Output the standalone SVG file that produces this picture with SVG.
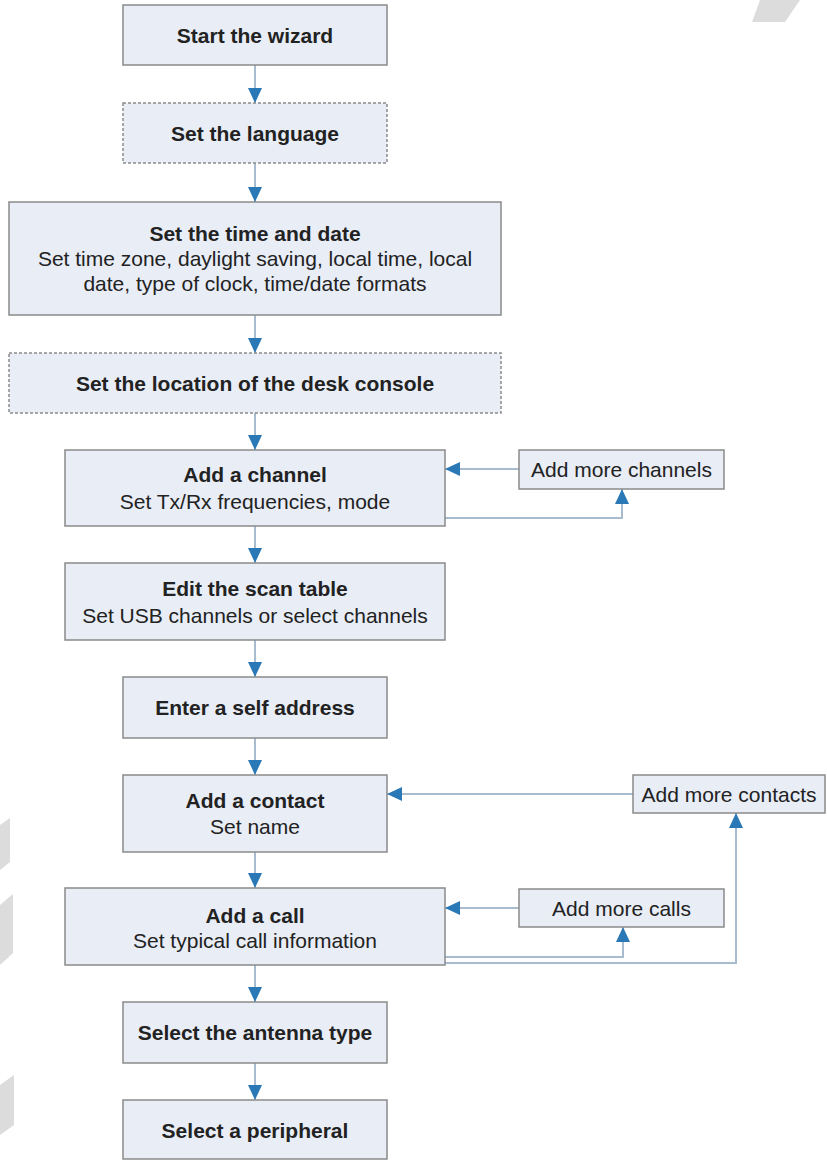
<svg xmlns="http://www.w3.org/2000/svg" width="827" height="1161" viewBox="0 0 827 1161">
<style>
  .box{fill:#e8edf6;stroke:#8a8a8a;stroke-width:1.5}
  .dash{fill:#e8edf6;stroke:#8a8a8a;stroke-width:1.5;stroke-dasharray:3 2}
  .t{font-family:"Liberation Sans",Arial,Helvetica,sans-serif;font-size:21px;fill:#222;text-anchor:middle;dominant-baseline:central}
  .b{font-weight:bold}
  .c{fill:none;stroke:#a9bccf;stroke-width:2}
  .bg{fill:#dcdcdc}
</style>
<defs>
  <marker id="ah" markerUnits="userSpaceOnUse" markerWidth="15" markerHeight="14" refX="15" refY="7" orient="auto">
    <path d="M0,0 L15,7 L0,14 z" fill="#2b78b6"/>
  </marker>
</defs>
<rect width="827" height="1161" fill="#ffffff"/>
<g id="background">
  <polygon class="bg" points="0,905 13,894 13,953 0,965"/>
  <polygon class="bg" points="0,825 10,818 10,862 0,870"/>
  <polygon class="bg" points="0,1085 14,1075 14,1125 0,1135"/>
  <polygon class="bg" points="760,0 800,0 785,22 752,22"/>
</g>
<g id="connectors">
  <line class="c" x1="255" y1="65" x2="255" y2="103" marker-end="url(#ah)"/>
  <line class="c" x1="255" y1="163" x2="255" y2="202" marker-end="url(#ah)"/>
  <line class="c" x1="255" y1="315" x2="255" y2="353" marker-end="url(#ah)"/>
  <line class="c" x1="255" y1="413" x2="255" y2="450" marker-end="url(#ah)"/>
  <line class="c" x1="519" y1="469" x2="445" y2="469" marker-end="url(#ah)"/>
  <polyline class="c" points="445,518 622,518 622,489" marker-end="url(#ah)"/>
  <line class="c" x1="255" y1="526" x2="255" y2="563" marker-end="url(#ah)"/>
  <line class="c" x1="255" y1="640" x2="255" y2="677" marker-end="url(#ah)"/>
  <line class="c" x1="255" y1="738" x2="255" y2="775" marker-end="url(#ah)"/>
  <line class="c" x1="633" y1="794" x2="387" y2="794" marker-end="url(#ah)"/>
  <line class="c" x1="255" y1="852" x2="255" y2="888" marker-end="url(#ah)"/>
  <line class="c" x1="519" y1="908" x2="445" y2="908" marker-end="url(#ah)"/>
  <polyline class="c" points="445,957 623,957 623,927" marker-end="url(#ah)"/>
  <polyline class="c" points="445,963 736,963 736,813" marker-end="url(#ah)"/>
  <line class="c" x1="255" y1="965" x2="255" y2="1002" marker-end="url(#ah)"/>
  <line class="c" x1="255" y1="1063" x2="255" y2="1100" marker-end="url(#ah)"/>
</g>
<g id="start">
  <rect class="box" x="123" y="5" width="264" height="60"/>
  <text class="t b" x="255" y="35">Start the wizard</text>
</g>
<g id="language">
  <rect class="dash" x="123" y="103" width="264" height="60"/>
  <text class="t b" x="255" y="133">Set the language</text>
</g>
<g id="timedate">
  <rect class="box" x="9" y="202" width="492" height="113"/>
  <text class="t b" x="255" y="233">Set the time and date</text>
  <text class="t" x="255" y="258">Set time zone, daylight saving, local time, local</text>
  <text class="t" x="255" y="283">date, type of clock, time/date formats</text>
</g>
<g id="location">
  <rect class="dash" x="9" y="353" width="492" height="60"/>
  <text class="t b" x="255" y="383">Set the location of the desk console</text>
</g>
<g id="channel">
  <rect class="box" x="65" y="450" width="380" height="76"/>
  <text class="t b" x="255" y="474">Add a channel</text>
  <text class="t" x="255" y="501">Set Tx/Rx frequencies, mode</text>
</g>
<g id="more-channels">
  <rect class="box" x="519" y="450" width="205" height="39"/>
  <text class="t" x="621.5" y="469">Add more channels</text>
</g>
<g id="scan">
  <rect class="box" x="65" y="563" width="380" height="77"/>
  <text class="t b" x="255" y="588">Edit the scan table</text>
  <text class="t" x="255" y="615">Set USB channels or select channels</text>
</g>
<g id="self">
  <rect class="box" x="123" y="677" width="264" height="61"/>
  <text class="t b" x="255" y="707">Enter a self address</text>
</g>
<g id="contact">
  <rect class="box" x="123" y="775" width="264" height="77"/>
  <text class="t b" x="255" y="800">Add a contact</text>
  <text class="t" x="255" y="826">Set name</text>
</g>
<g id="more-contacts">
  <rect class="box" x="633" y="775" width="192" height="38"/>
  <text class="t" x="729" y="794">Add more contacts</text>
</g>
<g id="call">
  <rect class="box" x="65" y="888" width="380" height="77"/>
  <text class="t b" x="255" y="915">Add a call</text>
  <text class="t" x="255" y="940">Set typical call information</text>
</g>
<g id="more-calls">
  <rect class="box" x="519" y="889" width="205" height="38"/>
  <text class="t" x="621.5" y="908">Add more calls</text>
</g>
<g id="antenna">
  <rect class="box" x="123" y="1002" width="264" height="61"/>
  <text class="t b" x="255" y="1032">Select the antenna type</text>
</g>
<g id="peripheral">
  <rect class="box" x="123" y="1100" width="264" height="59"/>
  <text class="t b" x="255" y="1130">Select a peripheral</text>
</g>
</svg>
